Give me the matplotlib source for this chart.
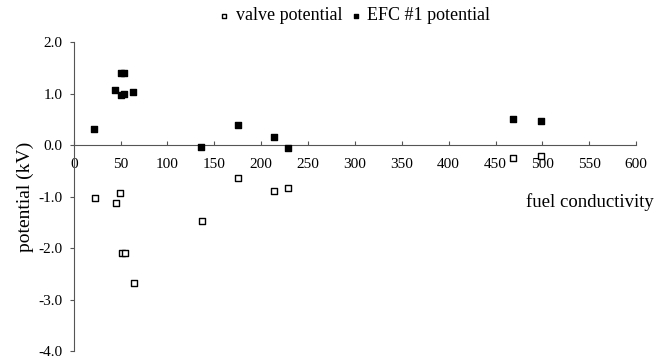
import numpy as np
import matplotlib.pyplot as plt
from matplotlib.ticker import FuncFormatter

plt.rcParams['font.family'] = ['Liberation Serif', 'DejaVu Serif']

# fuel conductivity and potentials (kV)
efc_x = [22, 44, 50, 54, 50, 54, 63, 136, 175, 214, 229, 469, 499]
efc_y = [0.32, 1.08, 0.97, 1.00, 1.41, 1.41, 1.04, -0.04, 0.40, 0.15, -0.06, 0.50, 0.46]

valve_x = [23, 45, 49, 51, 55, 64, 137, 175, 214, 229, 469, 499]
valve_y = [-1.02, -1.12, -0.92, -2.10, -2.10, -2.67, -1.47, -0.63, -0.88, -0.83, -0.24, -0.20]

x_ticks = np.arange(0, 601, 50)
y_ticks = [2.0, 1.0, 0.0, -1.0, -2.0, -3.0, -4.0]

fig = plt.figure(figsize=(6.64, 3.6), dpi=100)
ax = fig.add_axes([0.111, 0.024, 0.847, 0.859])

ax.scatter(valve_x, valve_y, marker="s", s=17, facecolors="white",
           edgecolors="black", linewidths=1.0, label="valve potential", zorder=3)
ax.scatter(efc_x, efc_y, marker="s", s=22, color="black",
           label="EFC #1 potential", zorder=3)

ax.set_xlim(0, 600)
ax.set_ylim(-4.0, 2.0)
ax.spines["top"].set_visible(False)
ax.spines["right"].set_visible(False)
ax.spines["bottom"].set_position(("data", 0))
ax.spines["bottom"].set_color("#555555")
ax.spines["left"].set_color("#555555")

ax.set_xticks(x_ticks)
ax.set_yticks(y_ticks)
ax.yaxis.set_major_formatter(FuncFormatter(lambda v, p: f"{v:.1f}".replace("\u2212", "-")))
ax.tick_params(axis="x", direction="in", length=3, pad=9, labelsize=11, color="#555555")
ax.tick_params(axis="y", direction="out", length=3, pad=5, labelsize=11, color="#555555")

ax.set_ylabel("potential (kV)", fontsize=14, labelpad=3)
fig.text(0.888, 0.44, "fuel conductivity", fontsize=13.5, ha="center", va="center")

ax.legend(loc="upper center", bbox_to_anchor=(0.5, 1.165), ncol=2, frameon=False,
          fontsize=13, handlelength=0.5, handletextpad=0.4, columnspacing=0.5,
          markerscale=0.75)

fig.savefig("out.png", dpi=100)
